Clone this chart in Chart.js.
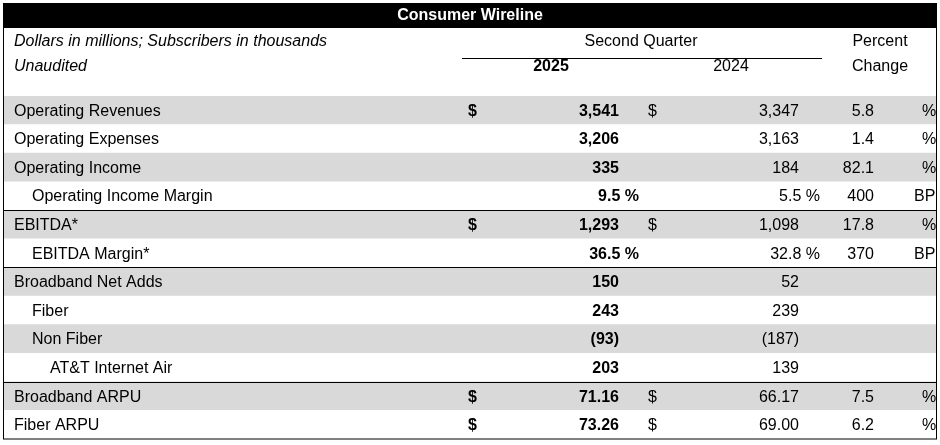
<!DOCTYPE html><html><head><meta charset="utf-8">
<script src="https://cdn.jsdelivr.net/npm/chart.js@4"></script>
<style>body{margin:0;background:#fff}#w{width:940px;height:445px}</style></head><body>
<div id="w"><canvas id="c"></canvas></div>
<script>
const title = "Consumer Wireline";
const rowLabels = ["Operating Revenues","Operating Expenses","Operating Income","Operating Income Margin","EBITDA*","EBITDA Margin*","Broadband Net Adds","Fiber","Non Fiber","AT&T Internet Air","Broadband ARPU","Fiber ARPU"];
const rowIndent = [0,0,0,1,0,1,0,1,1,2,0,0];
const dollarSign = [1,0,0,0,1,0,0,0,0,0,1,1];
const v2025 = ["3,541","3,206","335","9.5 %","1,293","36.5 %","150","243","(93)","203","71.16","73.26"];
const v2024 = ["3,347","3,163","184","5.5 %","1,098","32.8 %","52","239","(187)","139","66.17","69.00"];
const pct = ["5.8","1.4","82.1","400","17.8","370","","","","","7.5","6.2"];
const pctUnit = ["%","%","%","BP","%","BP","","","","","%","%"];
const shaded = [1,0,1,0,1,0,1,0,1,0,1,0];
const ruleAfter = [4,6,10];
const F = "'Liberation Sans', Arial, sans-serif";
const tablePlugin = {id:'tbl', afterDatasetsDraw(ch){
  const c=ch.ctx, xs=ch.scales.x, ys=ch.scales.y;
  const X=v=>xs.getPixelForValue(v);
  const L=X(0), R=X(934);
  const rowY=i=>ys.getPixelForValue(i);
  const half=(rowY(1)-rowY(0))/2;
  c.save();
  c.fillStyle='#000'; c.fillRect(L,3,R-L,25);
  c.fillStyle='#fff'; c.font="bold 16px "+F; c.textAlign='center'; c.textBaseline='middle';
  c.fillText(title,(L+R)/2,16);
  c.fillStyle='#000'; c.font="italic 16px "+F; c.textAlign='left';
  c.fillText("Dollars in millions; Subscribers in thousands",X(11),42);
  c.fillText("Unaudited",X(11),67);
  c.font="16px "+F; c.textAlign='center';
  c.fillText("Second Quarter",X(638),42);
  c.fillText("Percent",X(877),42);
  c.fillText("Change",X(877),67);
  c.fillText("2024",X(728),67);
  c.font="bold 16px "+F; c.fillText("2025",X(548),67);
  c.lineWidth=1; c.strokeStyle='#000';
  c.beginPath(); c.moveTo(X(459),58.5); c.lineTo(X(819),58.5); c.stroke();
  rowLabels.forEach((lab,i)=>{
    const y=rowY(i)+1;
    c.textAlign='left'; c.font="16px "+F;
    c.fillText(lab,X(11+rowIndent[i]*18),y);
    if(dollarSign[i]){c.font="bold 16px "+F;c.fillText("$",X(465),y);c.font="16px "+F;c.fillText("$",X(645),y);}
    c.textAlign='right';
    const isPct=v2025[i].endsWith('%');
    c.font="bold 16px "+F; c.fillText(v2025[i],X(isPct?636:616),y);
    c.font="16px "+F; c.fillText(v2024[i],X(isPct?817:796),y);
    c.fillText(pct[i],X(871),y);
    c.textAlign='left';
    if(pctUnit[i]) c.fillText(pctUnit[i],X(pctUnit[i]=='%'?919:911),y);
  });
  ruleAfter.forEach(i=>{const y=Math.round(rowY(i)-half)+0.5;c.beginPath();c.moveTo(L,y);c.lineTo(R,y);c.stroke();});
  c.strokeRect(L+0.5,3.5,R-L-1,ys.bottom-3.5);
  c.restore();
}};
new Chart(document.getElementById('c'),{type:'bar',
 data:{labels:rowLabels,datasets:[{data:rowLabels.map(()=>[0,934]),backgroundColor:shaded.map(s=>s?'#d9d9d9':'#ffffff'),barPercentage:1,categoryPercentage:1,borderWidth:0}]},
 options:{indexAxis:'y',responsive:true,maintainAspectRatio:false,animation:false,
  layout:{padding:{top:96,left:3,right:3,bottom:6}},
  plugins:{legend:{display:false},tooltip:{enabled:false}},
  scales:{x:{display:false,min:0,max:934},y:{display:false}}},
 plugins:[tablePlugin]});
</script></body></html>
